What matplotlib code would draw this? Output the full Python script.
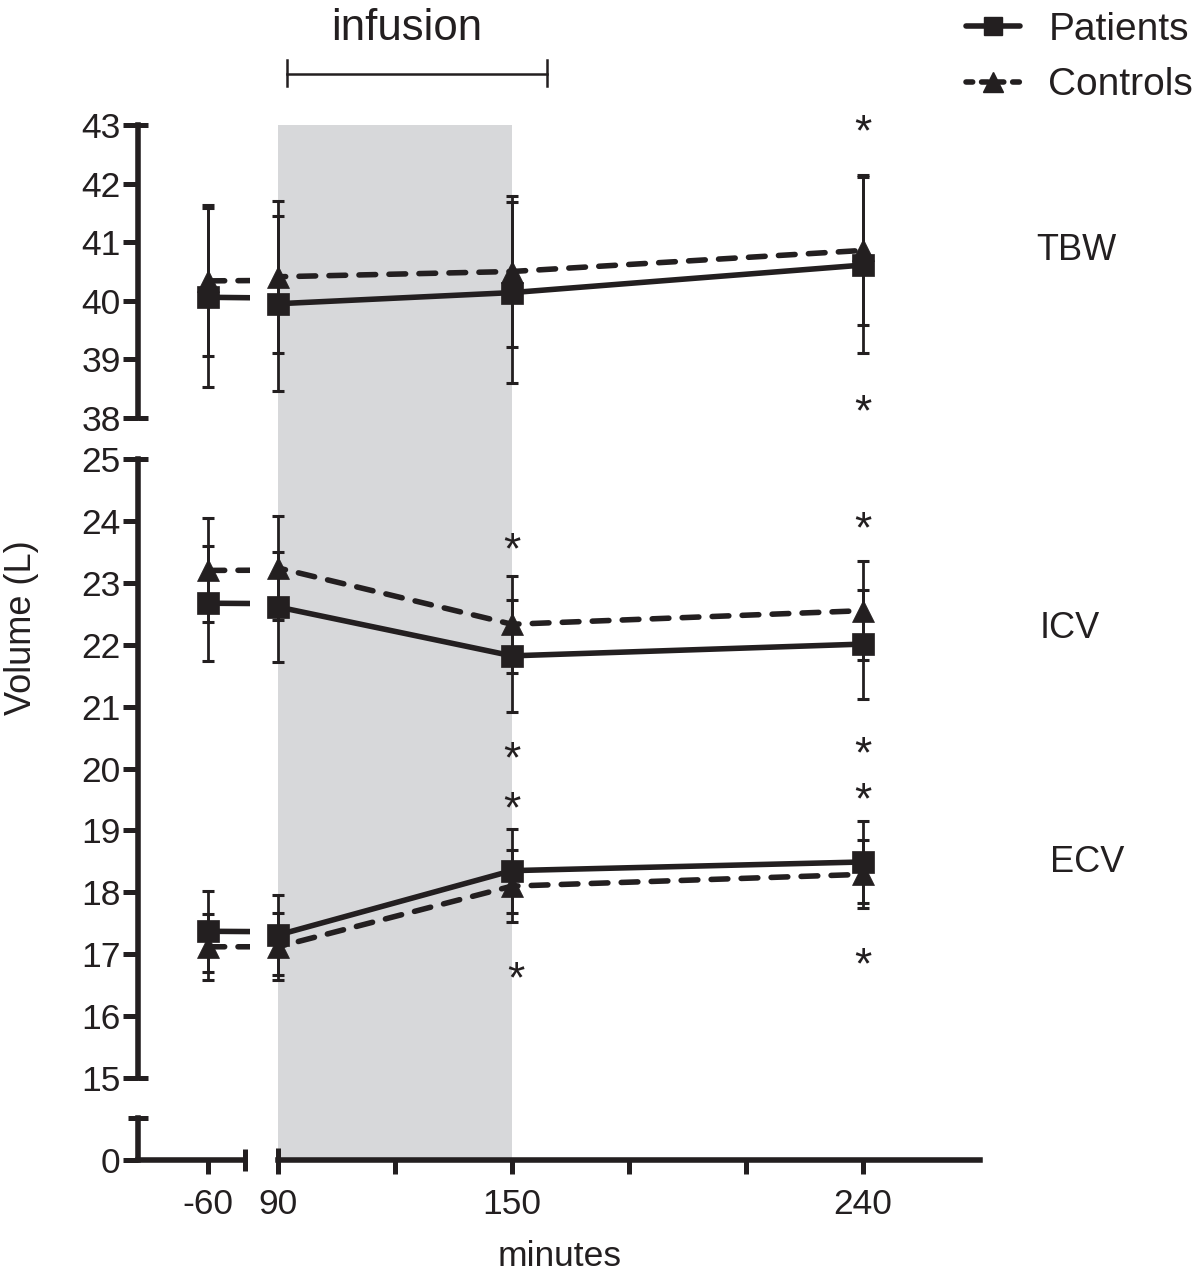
import numpy as np
import matplotlib
matplotlib.use("Agg")
import matplotlib.pyplot as plt
from matplotlib.lines import Line2D

plt.rcParams['font.family'] = ['Liberation Sans', 'DejaVu Sans']

INK = '#231f20'
SHADE = '#d7d8da'

# ---------------- data ----------------
minutes = [-60, 90, 150, 240]
infusion_start, infusion_end = 90, 150

tbw_patients = [40.06, 39.95, 40.14, 40.61]
tbw_patients_sd = [1.53, 1.49, 1.55, 1.50]
tbw_controls = [40.34, 40.41, 40.50, 40.86]
tbw_controls_sd = [1.29, 1.30, 1.29, 1.28]

icv_patients = [22.67, 22.61, 21.82, 22.01]
icv_patients_sd = [0.93, 0.89, 0.90, 0.88]
icv_controls = [23.20, 23.24, 22.33, 22.55]
icv_controls_sd = [0.84, 0.84, 0.78, 0.80]

ecv_patients = [17.37, 17.31, 18.35, 18.49]
ecv_patients_sd = [0.65, 0.65, 0.68, 0.66]
ecv_controls = [17.12, 17.12, 18.10, 18.29]
ecv_controls_sd = [0.53, 0.54, 0.58, 0.55]

star_tbw_x = [240, 240]
star_tbw_y = [43.0, 38.22]
star_mid_x = [150, 240, 150, 150, 151, 240, 240, 240]
star_mid_y = [23.64, 23.98, 20.27, 19.46, 16.71, 20.35, 19.60, 16.94]

top_yticks = [38, 39, 40, 41, 42, 43]
mid_yticks = list(range(15, 26))
right_xticks = [90, 120, 150, 180, 210, 240]
right_xticklabels = ['90', '', '150', '', '', '240']

# ---------------- layout ----------------
W, H, DPI = 1200, 1272, 100
fig = plt.figure(figsize=(W / DPI, H / DPI), dpi=DPI)


def add_px_axes(x0, x1, y0, y1, **kw):
    return fig.add_axes([x0 / W, 1 - y1 / H, (x1 - x0) / W, (y1 - y0) / H], **kw)


PX_PER_MIN = 3.9
LEFT_LIM = (-60 - (208 - 138) / PX_PER_MIN, -60 + (250 - 208) / PX_PER_MIN)
LEFT_END = -60 + (245 - 208) / PX_PER_MIN
RIGHT_LIM = (90, 90 + (980 - 278) / PX_PER_MIN)

cols = [(138, 250, LEFT_LIM), (278, 980, RIGHT_LIM)]
rows = [(125, 418, (38, 43)), (459, 1078, (15, 25)), (1118, 1160, (0, 1))]

# background shading
bg = add_px_axes(138, 980, 125, 1160, zorder=0)
bg.set_xlim(90 - (278 - 138) / PX_PER_MIN, RIGHT_LIM[1])
bg.set_ylim(0, 1)
bg.axvspan(infusion_start, infusion_end, color=SHADE, lw=0)
bg.axis('off')

SPINE_W = 4.0
TICK_W = 3.6

axes = {}
for ri, (y0, y1, ylim) in enumerate(rows):
    for ci, (x0, x1, xlim) in enumerate(cols):
        ax = add_px_axes(x0, x1, y0, y1, zorder=2)
        ax.patch.set_alpha(0)
        ax.set_xlim(*xlim)
        ax.set_ylim(*ylim)
        for s in ax.spines.values():
            s.set_visible(False)
            s.set_linewidth(SPINE_W)
            s.set_color(INK)
        ax.tick_params(which='both', left=False, bottom=False,
                       labelleft=False, labelbottom=False,
                       colors=INK, labelcolor=INK, width=TICK_W)
        ax.xaxis.remove_overlapping_locs = False
        ax.yaxis.remove_overlapping_locs = False
        axes[(ri, ci)] = ax

# y axis segments (left column)
for ri, ticks, ends in [(0, top_yticks, [38, 43]), (1, mid_yticks, [15, 25])]:
    ax = axes[(ri, 0)]
    ax.spines['left'].set_visible(True)
    ax.set_yticks(ticks)
    ax.set_yticks(ends, minor=True)
    ax.tick_params(axis='y', which='major', left=True, labelleft=True,
                   direction='out', length=10.5, pad=2, labelsize=25.5)
    ax.tick_params(axis='y', which='minor', left=True, direction='in', length=7)

axb = axes[(2, 0)]
axb.spines['left'].set_visible(True)
axb.spines['bottom'].set_visible(True)
axb.spines['bottom'].set_bounds(LEFT_LIM[0], LEFT_END)
axb.set_yticks([0])
axb.set_yticks([1], minor=True)
axb.tick_params(axis='y', which='major', left=True, labelleft=True,
                direction='out', length=10.5, pad=2, labelsize=25.5)
axb.tick_params(axis='y', which='minor', left=True, direction='inout', length=14)
axb.set_xticks([-60])
axb.set_xticklabels(['-60'])
axb.set_xticks([LEFT_END], minor=True)
axb.tick_params(axis='x', which='major', bottom=True, labelbottom=True,
                direction='out', length=10, pad=10, labelsize=25.5)
axb.tick_params(axis='x', which='minor', bottom=True, direction='inout', length=16)

axr = axes[(2, 1)]
axr.spines['bottom'].set_visible(True)
axr.set_xticks(right_xticks)
axr.set_xticklabels(right_xticklabels)
axr.set_xticks([90], minor=True)
axr.tick_params(axis='x', which='major', bottom=True, labelbottom=True,
                direction='out', length=10, pad=10, labelsize=25.5)
axr.tick_params(axis='x', which='minor', bottom=True, direction='in', length=9)

# ---------------- data drawing ----------------
x = np.array(minutes, dtype=float)
series = [
    (0, tbw_patients, tbw_patients_sd, 's', '-'),
    (0, tbw_controls, tbw_controls_sd, '^', '--'),
    (1, icv_patients, icv_patients_sd, 's', '-'),
    (1, icv_controls, icv_controls_sd, '^', '--'),
    (1, ecv_patients, ecv_patients_sd, 's', '-'),
    (1, ecv_controls, ecv_controls_sd, '^', '--'),
]
for ri, vals, sd, mk, ls in series:
    vals = np.array(vals)
    sd = np.array(sd)
    for ci in (0, 1):
        ax = axes[(ri, ci)]
        lo, hi = ax.get_xlim()
        if ls == '-':
            ax.plot(x, vals, color=INK, lw=4, solid_capstyle='butt', zorder=2)
        else:
            ax.plot(x, vals, color=INK, lw=4, dashes=(3.0, 2.4),
                    dash_capstyle='round', zorder=2)
        m = (x >= lo - 1e-9) & (x <= hi)
        eb = ax.errorbar(x[m], vals[m], yerr=sd[m], fmt='none', ecolor=INK,
                         elinewidth=2.0, capsize=4.5, capthick=2.2, zorder=3)
        for art in list(eb.lines[1]) + list(eb.lines[2]):
            art.set_clip_on(False)
        ax.plot(x[m], vals[m], ls='none', marker=mk, ms=16.5, color=INK,
                mec=INK, mew=0.5, clip_on=False, zorder=4)

# asterisks
STAR_FS = 32
for ax_key, sx, sy in [((0, 1), star_tbw_x, star_tbw_y), ((1, 1), star_mid_x, star_mid_y)]:
    ax = axes[ax_key]
    for xx, yy in zip(sx, sy):
        ax.annotate('*', (xx, yy), xytext=(0, -0.46 * STAR_FS), textcoords='offset points',
                    ha='center', va='baseline', fontsize=STAR_FS, color=INK,
                    annotation_clip=False)

# ---------------- texts ----------------
fig.text(22 / W, 1 - 628 / H, 'Volume (L)', rotation=90, ha='center', va='center',
         fontsize=26, color=INK)
fig.text(560 / W, 1 - 1266 / H, 'minutes', ha='center', va='baseline',
         fontsize=25.5, color=INK)
fig.text(1036 / W, 1 - 251 / H, 'TBW', ha='left', va='center', fontsize=26, color=INK)
fig.text(1040 / W, 1 - 629 / H, 'ICV', ha='left', va='center', fontsize=26, color=INK)
fig.text(1050 / W, 1 - 862 / H, 'ECV', ha='left', va='center', fontsize=26, color=INK)

# infusion bracket
fig.text(407 / W, 1 - 40 / H, 'infusion', ha='center', va='baseline', fontsize=31.5, color=INK)
fig.add_artist(Line2D([287 / W, 547 / W], [1 - 74 / H] * 2, transform=fig.transFigure,
                      color=INK, lw=1.8))
for xp in (287, 547):
    fig.add_artist(Line2D([xp / W] * 2, [1 - 60 / H, 1 - 86 / H], transform=fig.transFigure,
                          color=INK, lw=1.8))

# legend
h1 = Line2D([], [], color=INK, lw=4, marker='s', ms=13, solid_capstyle='round')
h2 = Line2D([], [], color=INK, lw=4, marker='^', ms=14, dashes=(1.2, 1.6),
            dash_capstyle='round')
fig.legend([h1, h2], ['Patients', 'Controls'], loc='upper left',
           bbox_to_anchor=(966 / W, 1 - 12 / H), frameon=False, fontsize=28,
           handlelength=1.4, handletextpad=0.72, labelspacing=0.5,
           borderpad=0, borderaxespad=0, labelcolor=INK)

fig.savefig('out.png', dpi=DPI)
